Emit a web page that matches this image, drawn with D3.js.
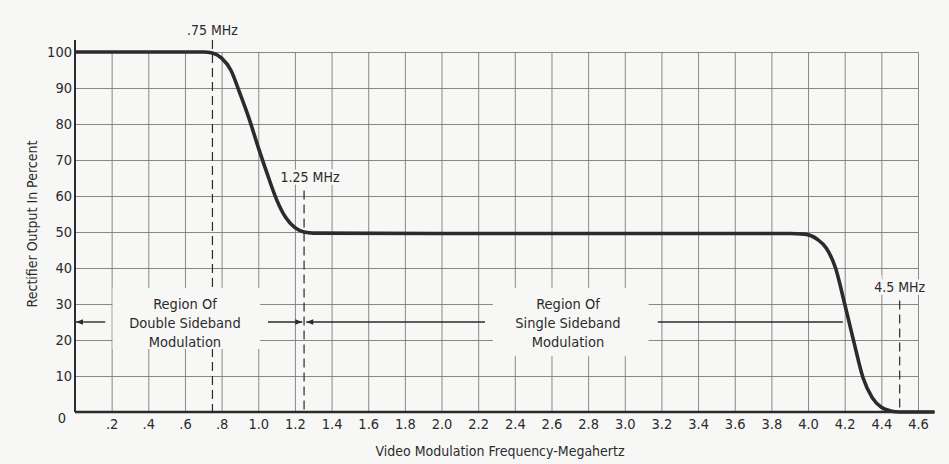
<!DOCTYPE html>
<html>
<head>
<meta charset="utf-8">
<script src="https://cdn.jsdelivr.net/npm/d3@7"></script>
<style>
  body { margin: 0; background: #f7f7f6; }
  svg { display: block; }
  text { font-family: "DejaVu Sans Condensed", "Liberation Sans Narrow", "Open Sans", sans-serif; fill: #2b2b2b; }
</style>
</head>
<body>
<div id="chart"></div>
<script>
// response curve (MHz, percent)
const freq = [0, 0.70, 0.75, 0.80, 0.85, 0.90, 0.95, 1.00, 1.05, 1.10, 1.15, 1.20, 1.25, 1.30, 2.00, 3.00, 3.90, 3.98, 4.05, 4.10, 4.15, 4.20, 4.25, 4.30, 4.35, 4.40, 4.45, 4.50, 4.69];
const pct  = [100, 100, 99.7, 98.3, 95, 88.5, 81.5, 73.5, 66, 59, 54, 51.2, 50, 49.7, 49.6, 49.6, 49.6, 49.4, 48, 45.5, 40, 30, 19.5, 9.5, 4, 1.3, 0.3, 0, 0];

const xTicks = [0.2, 0.4, 0.6, 0.8, 1.0, 1.2, 1.4, 1.6, 1.8, 2.0, 2.2, 2.4, 2.6, 2.8, 3.0, 3.2, 3.4, 3.6, 3.8, 4.0, 4.2, 4.4, 4.6];
const yTicks = [0, 10, 20, 30, 40, 50, 60, 70, 80, 90, 100];

// dashed markers: frequency, label, top of line (percent), label height (percent)
const markerFreq  = [0.75, 1.25, 4.5];
const markerLabel = [".75 MHz", "1.25 MHz", "4.5 MHz"];
const markerTop   = [103.3, 61.5, 31];
const markerText  = [106, 65.2, 34.6];

const regionLines = [
  ["Region Of", "Double Sideband", "Modulation"],
  ["Region Of", "Single Sideband", "Modulation"]
];
const regionCenter = [0.6, 2.69];

const width = 949, height = 464;
const svg = d3.select("#chart").append("svg")
  .attr("width", width)
  .attr("height", height);

const x = d3.scaleLinear().domain([0, 4.6]).range([75, 918]);
const y = d3.scaleLinear().domain([0, 100]).range([412, 52]);

const ink = "#2b2b2b";
const gridColor = "#7c7c7c";
const bg = "#f7f7f6";

// grid
svg.append("g")
  .attr("transform", "translate(0," + y(0) + ")")
  .call(d3.axisBottom(x).tickValues(xTicks).tickSize(-(y(0) - y(100))).tickFormat(""))
  .call(g => g.select(".domain").remove())
  .call(g => g.selectAll("line").attr("stroke", gridColor).attr("stroke-width", 0.9));

svg.append("g")
  .attr("transform", "translate(" + x(0) + ",0)")
  .call(d3.axisLeft(y).tickValues(yTicks.slice(1)).tickSize(-(x(4.6) - x(0))).tickFormat(""))
  .call(g => g.select(".domain").remove())
  .call(g => g.selectAll("line").attr("stroke", gridColor).attr("stroke-width", 0.9));

// dashed frequency markers
markerFreq.forEach((f, i) => {
  svg.append("line")
    .attr("x1", x(f)).attr("x2", x(f))
    .attr("y1", y(markerTop[i])).attr("y2", y(0))
    .attr("stroke", ink)
    .attr("stroke-width", 1.2)
    .attr("stroke-dasharray", "9,5");
});

// blank areas behind region text
svg.append("rect")
  .attr("x", x(0.205)).attr("width", x(1.01) - x(0.205))
  .attr("y", y(34.5)).attr("height", y(17.5) - y(34.5))
  .attr("fill", bg);
svg.append("rect")
  .attr("x", x(2.28)).attr("width", x(3.13) - x(2.28))
  .attr("y", y(34.5)).attr("height", y(15.5) - y(34.5))
  .attr("fill", bg);

// arrows at 25 %
const defs = svg.append("defs");
defs.append("marker")
  .attr("id", "arr")
  .attr("viewBox", "0 0 10 10")
  .attr("refX", 10).attr("refY", 5)
  .attr("markerWidth", 7).attr("markerHeight", 5)
  .attr("orient", "auto-start-reverse")
  .append("path")
  .attr("d", "M0,1 L10,5 L0,9 Z")
  .attr("fill", ink);

const arrowSegs = [[0.165, 0.005, true], [1.053, 1.24, true], [2.237, 1.262, true], [3.18, 4.19, false]];
arrowSegs.forEach(s => {
  svg.append("line")
    .attr("x1", x(s[0])).attr("x2", x(s[1]))
    .attr("y1", y(25)).attr("y2", y(25))
    .attr("stroke", ink)
    .attr("stroke-width", 1.4)
    .attr("marker-end", s[2] ? "url(#arr)" : null);
});

// axis lines
svg.append("line")
  .attr("x1", x(0)).attr("x2", x(0))
  .attr("y1", y(103.3)).attr("y2", y(0))
  .attr("stroke", ink).attr("stroke-width", 2);
svg.append("line")
  .attr("x1", x(0)).attr("x2", x(4.69))
  .attr("y1", y(0)).attr("y2", y(0))
  .attr("stroke", ink).attr("stroke-width", 2.6);

// response curve
const line = d3.line()
  .x((d, i) => x(freq[i]))
  .y(d => y(d))
  .curve(d3.curveMonotoneX);

svg.append("path")
  .datum(pct)
  .attr("fill", "none")
  .attr("stroke", ink)
  .attr("stroke-width", 3.6)
  .attr("stroke-linejoin", "round")
  .attr("d", line);

// tick labels
svg.append("g")
  .attr("transform", "translate(0," + y(0) + ")")
  .call(d3.axisBottom(x).tickValues(xTicks).tickSize(0).tickPadding(7)
    .tickFormat(d => d < 1 ? d3.format(".1f")(d).slice(1) : d3.format(".1f")(d)))
  .call(g => g.select(".domain").remove())
  .call(g => g.selectAll("text").style("font-size", "14.5px").attr("fill", ink));

svg.append("g")
  .attr("transform", "translate(" + (x(0) - 3) + ",0)")
  .call(d3.axisLeft(y).tickValues(yTicks).tickSize(0).tickPadding(0))
  .call(g => g.select(".domain").remove())
  .call(g => g.selectAll("text").style("font-size", "14.5px").attr("fill", ink))
  .call(g => g.selectAll(".tick").filter(d => d === 0).select("text").attr("x", -6).attr("dy", "0.75em"));

// marker labels
markerFreq.forEach((f, i) => {
  svg.append("text")
    .attr("x", x(f) + (i === 1 ? 6 : 0))
    .attr("y", y(markerText[i]))
    .attr("dy", "0.35em")
    .attr("text-anchor", "middle")
    .style("font-size", "14px")
    .style("paint-order", "stroke")
    .style("stroke", bg)
    .style("stroke-width", 5)
    .text(markerLabel[i]);
});

// region labels
regionLines.forEach((lines, i) => {
  lines.forEach((t, j) => {
    svg.append("text")
      .attr("x", x(regionCenter[i]))
      .attr("y", y(30) + j * 18.8)
      .attr("dy", "0.35em")
      .attr("text-anchor", "middle")
      .style("font-size", "14.5px")
      .text(t);
  });
});

// axis titles
svg.append("text")
  .attr("x", 500)
  .attr("y", 456)
  .attr("text-anchor", "middle")
  .style("font-size", "14px")
  .text("Video Modulation Frequency-Megahertz");

svg.append("text")
  .attr("transform", "translate(32,224) rotate(-90)")
  .attr("dy", "0.35em")
  .attr("text-anchor", "middle")
  .style("font-size", "14px")
  .text("Rectifier Output In Percent");
</script>
</body>
</html>
